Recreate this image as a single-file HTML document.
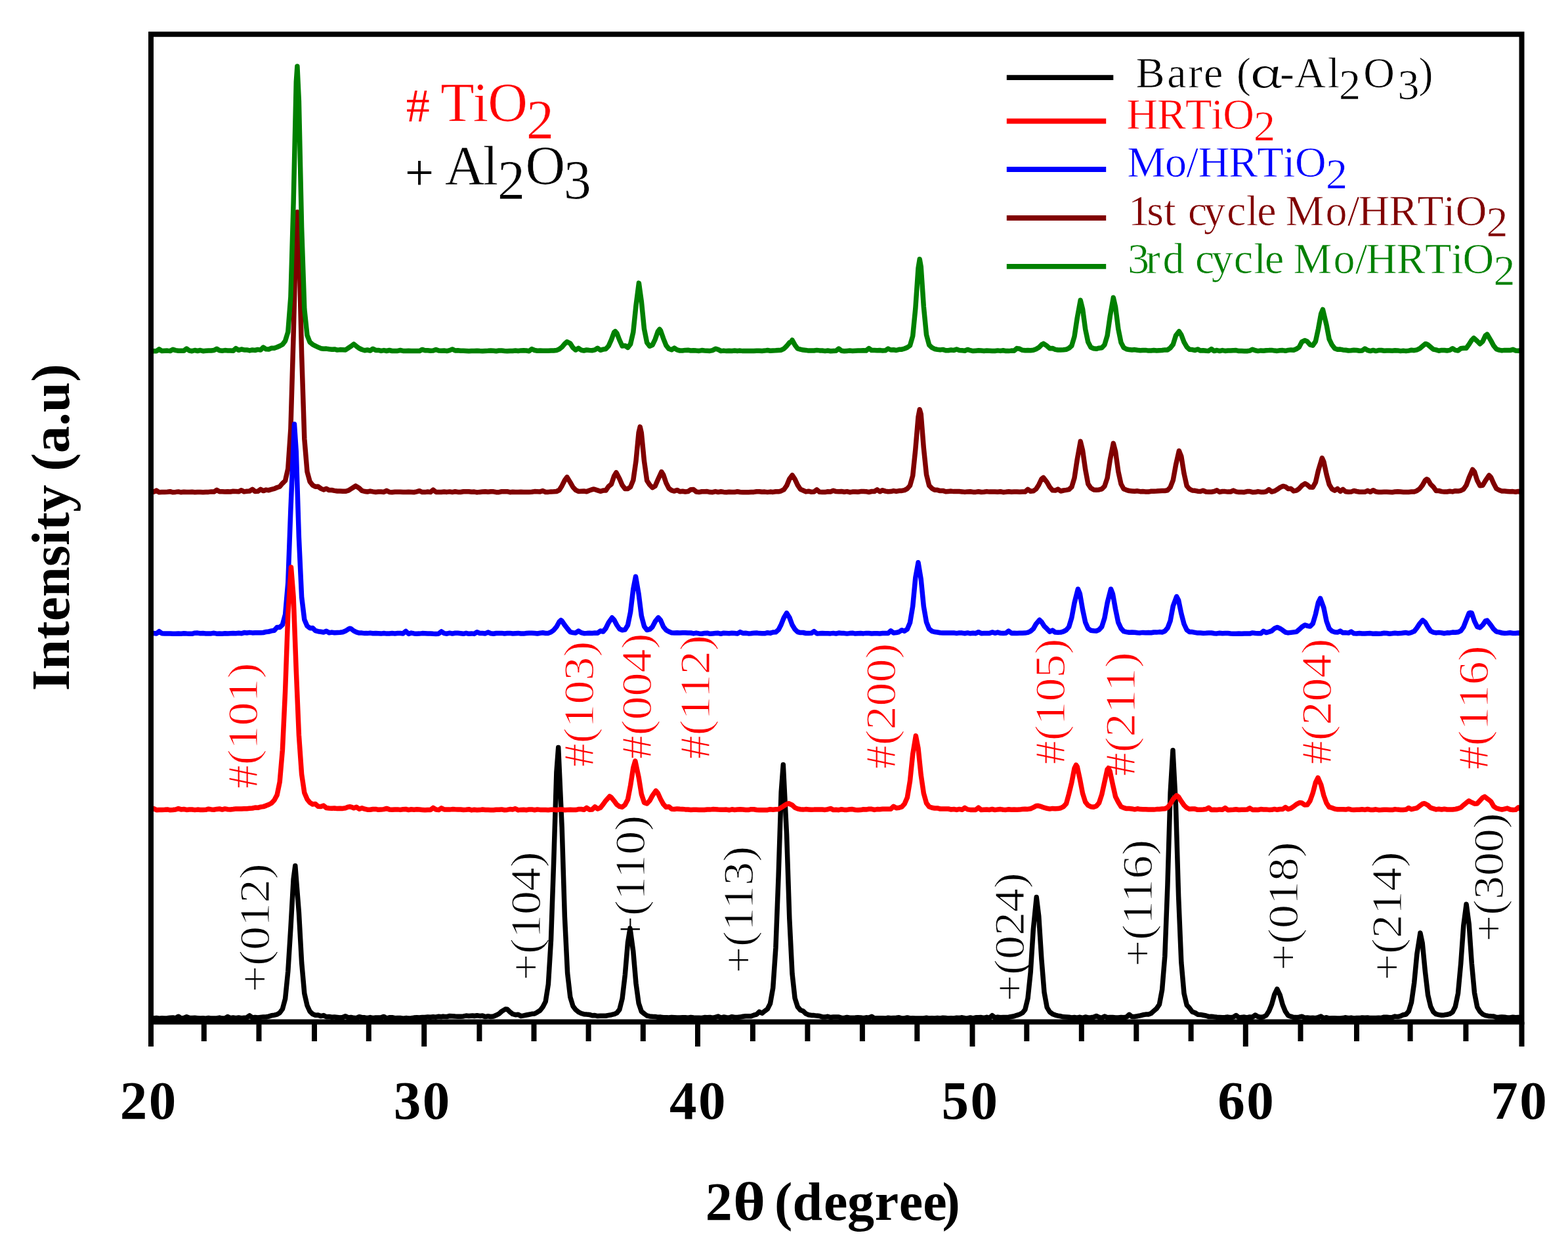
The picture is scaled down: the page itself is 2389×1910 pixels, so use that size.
<!DOCTYPE html>
<html><head><meta charset="utf-8"><title>XRD patterns</title>
<style>
html,body{margin:0;padding:0;background:#fff;}
svg{display:block;}
text{font-family:"Liberation Serif","Times New Roman",serif;}
</style></head><body>
<svg width="2389" height="1910" viewBox="0 0 2389 1910">
<rect x="0" y="0" width="2389" height="1910" fill="#fff"/>
<text transform="translate(392.0,1200.0) rotate(-90) scale(1.090,1)" x="-1.2" font-size="66" fill="#ff0000" stroke="#fff" stroke-width="1.10">#(101)</text>
<text transform="translate(904.0,1167.0) rotate(-90) scale(1.090,1)" x="-1.2" font-size="66" fill="#ff0000" stroke="#fff" stroke-width="1.10">#(103)</text>
<text transform="translate(992.0,1155.0) rotate(-90) scale(1.090,1)" x="-1.2" font-size="66" fill="#ff0000" stroke="#fff" stroke-width="1.10">#(004)</text>
<text transform="translate(1081.0,1155.0) rotate(-90) scale(1.090,1)" x="-1.2" font-size="66" fill="#ff0000" stroke="#fff" stroke-width="1.10">#(112)</text>
<text transform="translate(1364.0,1170.0) rotate(-90) scale(1.090,1)" x="-1.2" font-size="66" fill="#ff0000" stroke="#fff" stroke-width="1.10">#(200)</text>
<text transform="translate(1622.0,1163.0) rotate(-90) scale(1.090,1)" x="-1.2" font-size="66" fill="#ff0000" stroke="#fff" stroke-width="1.10">#(105)</text>
<text transform="translate(1729.0,1181.0) rotate(-90) scale(1.090,1)" x="-1.2" font-size="66" fill="#ff0000" stroke="#fff" stroke-width="1.10">#(211)</text>
<text transform="translate(2027.6,1163.0) rotate(-90) scale(1.090,1)" x="-1.2" font-size="66" fill="#ff0000" stroke="#fff" stroke-width="1.10">#(204)</text>
<text transform="translate(2267.0,1171.0) rotate(-90) scale(1.090,1)" x="-1.2" font-size="66" fill="#ff0000" stroke="#fff" stroke-width="1.10">#(116)</text>
<text transform="translate(410.0,1508.0) rotate(-90) scale(1.090,1)" x="-3.3" font-size="66" fill="#000000" stroke="#fff" stroke-width="1.10">+(012)</text>
<text transform="translate(823.0,1490.0) rotate(-90) scale(1.090,1)" x="-3.3" font-size="66" fill="#000000" stroke="#fff" stroke-width="1.10">+(104)</text>
<text transform="translate(982.0,1432.0) rotate(-90) scale(1.090,1)" x="-3.3" font-size="66" fill="#000000" stroke="#fff" stroke-width="1.10">+(110)</text>
<text transform="translate(1147.0,1479.0) rotate(-90) scale(1.090,1)" x="-3.3" font-size="66" fill="#000000" stroke="#fff" stroke-width="1.10">+(113)</text>
<text transform="translate(1560.0,1522.0) rotate(-90) scale(1.090,1)" x="-3.3" font-size="66" fill="#000000" stroke="#fff" stroke-width="1.10">+(024)</text>
<text transform="translate(1755.0,1469.0) rotate(-90) scale(1.090,1)" x="-3.3" font-size="66" fill="#000000" stroke="#fff" stroke-width="1.10">+(116)</text>
<text transform="translate(1977.0,1475.0) rotate(-90) scale(1.090,1)" x="-3.3" font-size="66" fill="#000000" stroke="#fff" stroke-width="1.10">+(018)</text>
<text transform="translate(2135.0,1490.0) rotate(-90) scale(1.090,1)" x="-3.3" font-size="66" fill="#000000" stroke="#fff" stroke-width="1.10">+(214)</text>
<text transform="translate(2290.0,1431.0) rotate(-90) scale(1.090,1)" x="-3.3" font-size="66" fill="#000000" stroke="#fff" stroke-width="1.10">+(300)</text>
<polyline fill="none" stroke="#000000" stroke-width="7.5" stroke-linejoin="round" points="230.0,1550.2 234.2,1551.0 238.3,1550.5 242.5,1551.3 246.7,1550.8 250.9,1551.1 255.1,1550.8 259.2,1550.2 263.4,1550.0 267.6,1550.8 271.8,1548.2 275.9,1551.0 280.1,1550.4 284.3,1548.8 288.4,1550.3 292.6,1550.5 296.8,1550.3 301.0,1550.7 305.1,1551.0 309.3,1550.8 313.5,1551.2 317.7,1550.4 321.9,1551.1 326.0,1550.9 330.2,1551.0 334.4,1550.1 338.6,1551.1 342.7,1550.9 346.9,1548.5 351.1,1550.7 355.2,1549.9 359.4,1550.7 363.6,1549.9 367.8,1550.7 371.9,1550.3 376.1,1549.9 380.3,1546.9 384.5,1550.1 388.6,1549.4 392.8,1550.0 397.0,1549.4 401.2,1548.9 405.4,1549.0 409.5,1548.1 413.7,1546.7 417.9,1546.1 422.1,1545.2 426.2,1542.6 430.4,1536.9 434.6,1521.3 438.8,1479.5 442.9,1413.8 447.1,1338.9 449.8,1318.8 455.4,1389.6 459.6,1465.9 463.8,1513.1 468.0,1531.5 472.1,1540.5 476.3,1544.5 480.5,1546.2 484.7,1546.1 488.9,1547.6 493.0,1546.6 497.2,1548.8 501.4,1548.5 505.6,1549.2 509.7,1549.0 513.9,1549.4 518.1,1550.0 522.2,1549.5 526.4,1547.7 530.6,1549.9 534.8,1549.4 539.0,1550.3 543.1,1550.7 547.3,1548.7 551.5,1549.7 555.6,1549.8 559.8,1550.7 564.0,1549.6 568.2,1550.7 572.4,1549.9 576.5,1550.0 580.7,1549.9 584.9,1548.4 589.0,1551.0 593.2,1549.8 597.4,1549.7 601.6,1550.7 605.8,1550.5 609.9,1550.5 614.1,1551.1 618.3,1550.6 622.5,1551.0 626.6,1550.7 630.8,1550.1 635.0,1549.7 639.1,1550.0 643.3,1549.5 647.5,1549.5 651.7,1548.9 655.9,1549.3 660.0,1548.8 664.2,1549.2 668.4,1548.2 672.5,1548.7 675.0,1548.1 676.7,1548.3 680.9,1548.6 685.1,1547.4 689.2,1547.7 693.4,1548.1 697.6,1548.3 701.8,1548.3 706.0,1547.9 710.1,1547.1 714.3,1547.5 720.0,1546.9 722.6,1547.5 726.8,1546.7 731.0,1547.4 735.2,1547.1 739.4,1548.6 743.5,1547.8 747.7,1548.5 751.9,1548.0 756.0,1546.3 760.2,1544.2 764.4,1540.4 769.9,1537.1 772.8,1537.3 776.9,1541.2 781.1,1544.5 785.3,1545.7 789.5,1545.2 793.6,1547.6 797.8,1546.9 802.0,1546.0 806.1,1545.2 810.3,1544.3 814.5,1544.0 818.7,1541.7 822.9,1539.0 827.0,1533.7 831.2,1525.6 835.4,1499.0 839.5,1431.8 843.7,1311.3 847.9,1176.1 850.7,1138.5 856.2,1260.8 860.4,1396.4 864.6,1482.0 868.8,1518.6 873.0,1532.5 877.1,1537.9 881.3,1541.4 885.5,1543.5 889.6,1544.7 893.8,1545.1 898.0,1545.4 902.2,1546.8 906.4,1546.5 910.5,1547.6 914.7,1547.3 918.9,1547.3 923.0,1547.2 927.2,1546.4 931.4,1545.7 935.6,1544.7 939.8,1542.9 943.9,1537.6 948.1,1520.9 952.3,1485.1 956.5,1435.5 960.0,1413.9 964.8,1449.3 969.0,1497.9 973.1,1528.0 977.3,1540.5 981.5,1544.0 985.7,1547.0 989.9,1547.9 994.0,1548.2 998.2,1548.4 1002.4,1549.3 1006.5,1549.1 1010.7,1549.8 1014.9,1549.8 1019.1,1549.9 1023.2,1549.4 1027.4,1549.7 1031.6,1550.1 1035.8,1549.9 1040.0,1549.8 1044.1,1549.7 1048.3,1550.2 1052.5,1549.5 1056.7,1550.0 1060.8,1550.3 1065.0,1550.3 1069.2,1550.4 1073.3,1549.6 1077.5,1549.7 1081.7,1549.4 1085.9,1550.4 1090.0,1549.3 1094.2,1548.1 1098.4,1550.3 1102.6,1549.0 1106.8,1549.7 1110.9,1550.0 1115.1,1548.7 1119.3,1549.5 1123.5,1549.5 1127.6,1549.1 1131.8,1548.3 1136.0,1547.7 1140.2,1547.8 1144.3,1547.7 1148.5,1546.2 1152.7,1545.1 1156.8,1541.1 1161.0,1543.3 1165.2,1539.9 1169.4,1536.8 1173.5,1528.6 1177.7,1504.9 1181.9,1444.0 1186.1,1334.2 1190.2,1206.2 1193.3,1164.7 1198.6,1271.5 1202.8,1398.8 1207.0,1483.0 1211.1,1520.4 1215.3,1533.5 1219.5,1538.5 1223.7,1540.1 1227.8,1543.9 1232.0,1545.7 1236.2,1546.4 1240.3,1546.6 1244.5,1547.1 1248.7,1547.5 1252.9,1548.9 1257.0,1549.1 1261.2,1548.3 1265.4,1549.5 1269.6,1549.1 1273.8,1548.9 1277.9,1549.0 1282.1,1550.4 1286.3,1550.5 1290.5,1549.5 1294.6,1550.2 1298.8,1550.3 1303.0,1550.1 1307.2,1549.8 1311.3,1549.9 1315.5,1550.7 1319.7,1549.8 1323.8,1550.2 1328.0,1548.3 1332.2,1550.9 1336.4,1550.7 1340.5,1550.7 1344.7,1550.7 1348.9,1551.1 1353.1,1550.3 1357.2,1550.8 1361.4,1550.5 1365.6,1550.2 1369.8,1549.8 1374.0,1551.0 1378.1,1551.0 1382.3,1549.9 1386.5,1551.0 1390.7,1550.8 1394.8,1551.0 1399.0,1551.1 1403.2,1551.1 1407.3,1550.9 1411.5,1550.3 1415.7,1551.1 1419.9,1550.7 1424.0,1550.9 1428.2,1550.5 1432.4,1551.0 1436.6,1550.3 1440.8,1550.5 1444.9,1551.1 1449.1,1550.8 1453.3,1550.9 1457.5,1550.3 1461.6,1550.6 1465.8,1549.8 1470.0,1550.7 1474.2,1550.9 1478.3,1549.9 1482.5,1550.9 1486.7,1549.8 1490.8,1549.8 1495.0,1549.6 1499.2,1550.4 1503.4,1549.3 1507.5,1550.6 1511.7,1546.7 1515.9,1550.0 1520.1,1549.1 1524.2,1549.7 1528.4,1549.5 1532.6,1549.4 1536.8,1549.2 1541.0,1548.5 1545.1,1547.8 1549.3,1546.3 1553.5,1545.0 1557.7,1542.8 1561.8,1537.9 1566.0,1520.7 1570.2,1480.5 1574.3,1415.7 1579.2,1366.6 1582.7,1395.4 1586.9,1461.2 1591.0,1511.5 1595.2,1534.4 1599.4,1541.4 1603.6,1544.4 1607.8,1546.1 1611.9,1547.1 1616.1,1547.8 1620.3,1548.8 1624.5,1549.0 1628.6,1549.3 1632.8,1549.9 1637.0,1549.5 1641.2,1550.1 1645.3,1549.3 1649.5,1550.3 1653.7,1549.0 1657.8,1549.9 1662.0,1549.8 1666.2,1549.3 1670.4,1547.5 1674.5,1549.4 1678.7,1550.3 1682.9,1548.1 1687.1,1549.7 1691.2,1549.5 1695.4,1549.5 1699.6,1549.9 1703.8,1549.9 1708.0,1549.5 1712.1,1549.7 1716.3,1549.1 1720.5,1545.3 1724.7,1548.6 1728.8,1548.4 1733.0,1547.7 1737.2,1546.8 1741.3,1545.8 1745.5,1545.1 1749.7,1545.0 1753.9,1543.4 1758.0,1539.8 1762.2,1536.2 1766.4,1529.9 1770.6,1507.5 1774.8,1456.2 1778.9,1348.5 1783.1,1207.8 1787.0,1142.7 1791.5,1227.5 1795.6,1365.5 1799.8,1465.7 1804.0,1513.2 1808.2,1530.9 1812.3,1535.3 1816.5,1541.2 1820.7,1542.5 1824.8,1545.2 1829.0,1545.4 1833.2,1546.2 1837.4,1547.0 1841.5,1548.4 1845.7,1548.2 1849.9,1548.8 1854.1,1549.2 1858.2,1549.4 1862.4,1549.7 1866.6,1549.5 1870.8,1549.1 1875.0,1549.6 1879.1,1549.1 1883.3,1546.5 1887.5,1549.9 1891.7,1549.4 1895.8,1549.1 1900.0,1550.0 1904.2,1548.9 1908.3,1549.3 1912.5,1546.0 1916.7,1548.5 1920.9,1549.5 1925.0,1548.7 1929.2,1546.5 1933.4,1540.0 1937.6,1529.8 1941.8,1514.6 1945.8,1506.4 1950.1,1515.3 1954.3,1530.5 1958.5,1540.7 1962.6,1546.7 1966.8,1548.2 1971.0,1549.5 1975.2,1549.6 1979.3,1549.1 1983.5,1548.2 1987.7,1550.2 1991.8,1549.9 1996.0,1550.5 2000.2,1550.2 2004.4,1550.7 2008.5,1549.6 2012.7,1548.1 2016.9,1550.8 2021.1,1549.7 2025.2,1551.0 2029.4,1550.7 2033.6,1550.8 2037.8,1550.9 2042.0,1550.9 2046.1,1550.6 2050.3,1549.8 2054.5,1550.7 2058.7,1550.1 2062.8,1550.9 2067.0,1550.4 2071.2,1550.6 2075.3,1550.0 2079.5,1550.2 2083.7,1550.0 2087.9,1550.6 2092.1,1550.4 2096.2,1550.4 2100.4,1550.3 2104.6,1550.4 2108.8,1549.2 2112.9,1549.3 2117.1,1549.7 2121.3,1549.6 2125.4,1548.1 2129.6,1548.6 2133.8,1547.7 2138.0,1545.7 2142.2,1545.0 2146.3,1540.3 2150.5,1526.7 2154.7,1496.9 2158.8,1453.6 2163.9,1421.0 2167.2,1436.6 2171.4,1479.8 2175.6,1515.7 2179.7,1533.0 2183.9,1541.4 2188.1,1544.7 2192.2,1545.6 2196.4,1546.2 2200.6,1545.9 2204.8,1545.3 2208.9,1544.2 2213.1,1541.6 2217.3,1533.3 2221.5,1512.9 2225.7,1467.6 2229.8,1410.1 2234.1,1377.2 2238.2,1407.7 2242.3,1467.3 2246.5,1512.2 2250.7,1533.8 2254.9,1540.9 2259.1,1544.9 2263.2,1546.6 2267.4,1547.4 2271.6,1547.8 2275.8,1547.9 2279.9,1549.4 2284.1,1549.3 2288.3,1548.9 2292.4,1549.2 2296.6,1549.9 2300.8,1550.0 2305.0,1549.3 2309.2,1549.7 2313.3,1549.5 2317.5,1550.4"/>
<polyline fill="none" stroke="#800000" stroke-width="7.5" stroke-linejoin="round" points="230.0,749.3 234.2,749.2 238.3,747.0 242.5,749.8 246.7,749.5 250.9,749.5 255.1,749.3 259.2,748.7 263.4,749.8 267.6,749.4 271.8,748.9 275.9,749.8 280.1,749.3 284.3,749.6 288.4,749.4 292.6,749.2 296.8,749.7 301.0,749.4 305.1,749.5 309.3,749.7 313.5,749.4 317.7,749.4 321.9,748.9 326.0,749.1 330.2,746.3 334.4,748.7 338.6,748.8 342.7,749.1 346.9,748.8 351.1,749.0 355.2,748.3 359.4,748.4 363.6,748.8 367.8,746.7 371.9,748.9 376.1,748.2 380.3,748.0 384.5,745.3 388.6,748.5 392.8,748.3 397.0,745.4 401.2,747.6 405.4,746.1 409.5,746.7 413.7,745.4 417.9,744.4 422.1,742.5 426.2,741.2 430.4,736.2 434.6,732.1 438.8,713.8 442.9,653.3 447.1,510.9 451.3,343.9 453.0,322.9 455.4,367.5 459.6,539.0 463.8,668.2 468.0,718.5 472.1,733.6 476.3,738.9 480.5,741.3 484.7,741.1 488.9,744.1 493.0,745.9 497.2,744.3 501.4,746.6 505.6,746.5 509.7,747.4 513.9,748.0 518.1,748.1 522.2,748.3 526.4,748.3 530.6,747.2 534.8,744.6 539.0,742.0 541.9,740.1 547.3,743.5 551.5,747.4 555.6,748.5 559.8,749.0 564.0,748.1 568.2,748.9 572.4,749.5 576.5,749.0 580.7,749.1 584.9,749.4 589.0,747.3 593.2,749.4 597.4,749.7 601.6,749.2 605.8,749.2 609.9,749.3 614.1,749.6 618.3,749.5 622.5,749.3 626.6,749.4 630.8,749.7 635.0,748.9 639.1,747.7 643.3,749.6 647.5,749.6 651.7,749.0 655.9,749.6 660.0,746.1 664.2,749.4 668.4,749.5 672.5,749.5 676.7,749.0 680.9,749.4 685.1,748.9 689.2,749.6 693.4,748.7 697.6,749.4 701.8,749.5 706.0,748.8 710.1,748.8 714.3,748.7 718.5,749.2 722.6,749.1 726.8,749.9 731.0,749.4 735.2,749.0 739.4,748.8 743.5,749.3 747.7,748.8 751.9,748.8 756.0,749.7 760.2,749.7 764.4,748.7 768.6,748.7 772.8,748.7 776.9,749.7 781.1,749.2 785.3,749.5 789.5,749.4 793.6,749.2 797.8,749.4 802.0,749.5 806.1,749.4 810.3,749.3 814.5,748.6 818.7,748.7 822.9,748.9 827.0,747.6 831.2,749.5 835.4,749.4 839.5,748.9 843.7,748.8 847.9,748.5 852.1,746.5 856.2,739.9 860.4,731.5 863.9,726.6 868.8,734.6 873.0,742.0 877.1,746.3 881.3,748.4 885.5,748.2 889.6,748.0 893.8,748.8 898.0,747.0 902.2,745.6 904.0,745.0 906.4,745.5 910.5,746.9 914.7,748.3 918.9,747.1 923.0,747.1 927.2,740.9 931.4,737.5 935.6,725.2 938.9,719.8 943.9,729.3 948.1,739.0 952.3,744.6 956.5,744.5 960.6,741.7 964.8,731.4 969.0,702.0 973.1,658.9 975.2,650.1 977.3,659.3 981.5,702.3 985.7,732.0 989.9,738.5 994.0,742.7 998.2,740.2 1002.4,730.6 1007.9,718.6 1010.7,723.2 1014.9,735.6 1019.1,743.9 1023.2,746.9 1027.4,748.1 1031.6,746.4 1035.8,748.7 1040.0,748.2 1044.1,749.0 1048.3,748.6 1052.5,745.7 1056.7,745.6 1060.8,749.0 1065.0,749.6 1069.2,748.8 1073.3,748.7 1077.5,748.6 1081.7,749.6 1085.9,749.7 1090.0,748.6 1094.2,749.6 1098.4,748.8 1102.6,749.4 1106.8,749.8 1110.9,749.3 1115.1,749.4 1119.3,749.6 1123.5,748.7 1127.6,749.5 1131.8,749.8 1136.0,749.8 1140.2,749.7 1144.3,749.5 1148.5,749.4 1152.7,748.7 1156.8,748.8 1161.0,749.3 1165.2,749.1 1169.4,749.6 1173.5,749.1 1177.7,749.4 1181.9,748.7 1186.1,748.8 1190.2,747.8 1194.4,745.6 1198.6,739.7 1202.8,729.5 1207.1,723.8 1211.1,729.9 1215.3,738.9 1219.5,745.3 1223.7,747.0 1227.8,748.9 1232.0,748.2 1236.2,749.3 1240.3,748.9 1244.5,745.8 1248.7,749.3 1252.9,749.4 1257.0,749.6 1261.2,748.8 1265.4,748.9 1269.6,747.2 1273.8,748.6 1277.9,748.7 1282.1,748.5 1286.3,749.2 1290.5,748.6 1294.6,749.7 1298.8,749.1 1303.0,748.9 1307.2,749.3 1311.3,748.6 1315.5,748.5 1319.7,748.7 1323.8,749.6 1328.0,748.5 1332.2,748.5 1336.4,745.9 1340.5,748.8 1344.7,746.7 1348.9,748.1 1353.1,748.8 1357.2,748.6 1361.4,747.6 1365.6,748.4 1369.8,747.6 1374.0,747.4 1378.1,746.6 1382.3,744.4 1386.5,739.6 1390.7,724.5 1394.8,684.6 1399.0,635.0 1401.2,623.8 1403.2,630.7 1407.3,682.2 1411.5,722.8 1415.7,739.7 1419.9,743.9 1424.0,746.2 1428.2,746.3 1432.4,747.6 1436.6,747.4 1440.8,748.8 1444.9,748.4 1449.1,748.1 1453.3,748.6 1457.5,748.5 1461.6,748.6 1465.8,748.9 1470.0,749.4 1474.2,748.9 1478.3,748.7 1482.5,749.4 1486.7,749.4 1490.8,748.7 1495.0,749.5 1499.2,749.2 1503.4,748.6 1507.5,749.1 1511.7,749.0 1515.9,748.9 1520.1,749.2 1524.2,748.7 1528.4,749.7 1532.6,749.3 1536.8,748.7 1541.0,749.3 1545.1,749.1 1549.3,748.9 1553.5,749.3 1557.7,748.9 1561.8,749.1 1566.0,745.4 1570.2,748.3 1574.3,747.8 1578.5,745.0 1582.7,738.4 1586.9,729.5 1589.8,727.4 1595.2,734.5 1599.4,741.9 1603.6,746.7 1607.8,747.1 1611.9,745.1 1616.1,748.0 1620.3,747.0 1624.5,746.4 1628.6,745.6 1632.8,741.8 1637.0,727.9 1641.2,699.9 1646.2,672.3 1649.5,685.9 1653.7,715.2 1657.8,737.1 1662.0,743.3 1666.2,745.9 1670.4,746.3 1674.5,745.9 1678.7,744.8 1682.9,740.6 1687.1,728.1 1691.2,700.8 1696.3,675.3 1699.6,688.0 1703.8,718.1 1708.0,737.2 1712.1,744.8 1716.3,746.3 1720.5,747.6 1724.7,747.9 1728.8,748.2 1733.0,747.8 1737.2,748.7 1741.3,748.6 1745.5,748.9 1749.7,749.1 1753.9,748.3 1758.0,748.2 1762.2,748.1 1766.4,747.8 1770.6,747.6 1774.8,747.5 1778.9,746.7 1783.1,742.2 1787.3,731.4 1791.5,708.2 1796.4,686.7 1799.8,695.2 1804.0,721.3 1808.2,740.1 1812.3,744.9 1816.5,747.0 1820.7,747.3 1824.8,748.2 1829.0,748.5 1833.2,747.2 1837.4,749.0 1841.5,749.2 1845.7,749.2 1849.9,748.5 1854.1,746.8 1858.2,749.4 1862.4,748.5 1866.6,748.6 1870.8,749.1 1875.0,749.0 1879.1,747.1 1883.3,748.9 1887.5,749.6 1891.7,749.4 1895.8,749.7 1900.0,748.6 1904.2,748.5 1908.3,749.7 1912.5,749.6 1916.7,748.6 1920.9,749.4 1925.0,749.6 1929.2,748.8 1933.4,745.6 1937.6,749.0 1941.8,747.9 1945.9,745.6 1950.1,742.7 1954.9,740.4 1958.5,741.3 1962.6,744.4 1966.8,744.2 1971.0,747.9 1975.2,747.1 1979.3,744.3 1983.5,739.7 1988.3,736.5 1991.8,738.5 1996.0,742.1 2000.2,742.2 2004.4,734.6 2008.5,716.8 2014.3,697.5 2016.9,703.2 2021.1,722.8 2025.2,738.0 2029.4,744.9 2033.6,747.1 2037.8,744.4 2042.0,748.4 2046.1,745.4 2050.3,748.8 2054.5,749.3 2058.7,749.1 2062.8,747.4 2067.0,748.5 2071.2,749.2 2075.3,749.2 2079.5,749.3 2083.7,747.3 2087.9,749.3 2092.1,746.7 2096.2,748.8 2100.4,749.6 2104.6,749.4 2108.8,749.3 2112.9,749.2 2117.1,749.4 2121.3,749.7 2125.4,749.0 2129.6,748.8 2133.8,749.1 2138.0,749.4 2142.2,749.5 2146.3,749.4 2150.5,749.0 2154.7,748.9 2158.8,747.4 2163.0,744.5 2167.2,739.1 2171.4,731.6 2173.8,729.7 2175.6,730.7 2179.7,737.6 2183.9,741.7 2188.1,747.6 2192.2,747.5 2196.4,748.6 2200.6,749.1 2204.8,749.0 2208.9,748.2 2213.1,748.9 2217.3,747.7 2221.5,748.1 2225.7,747.3 2229.8,745.1 2234.0,739.2 2238.2,727.6 2243.6,715.2 2246.5,718.7 2250.7,731.8 2254.9,739.8 2259.1,739.2 2263.2,732.1 2268.8,724.0 2271.6,727.1 2275.8,736.6 2279.9,744.3 2284.1,746.5 2288.3,748.1 2292.4,748.0 2296.6,748.4 2300.8,748.8 2305.0,748.6 2309.2,749.3 2313.3,748.5 2317.5,749.6"/>
<polyline fill="none" stroke="#0000ff" stroke-width="7.5" stroke-linejoin="round" points="230.0,964.5 234.2,964.5 238.3,964.9 242.5,961.7 246.7,964.7 250.9,965.1 255.1,965.1 259.2,964.9 263.4,965.3 267.6,965.3 271.8,964.9 275.9,965.2 280.1,964.8 284.3,965.1 288.4,965.3 292.6,965.3 296.8,964.2 301.0,964.1 305.1,964.8 309.3,964.6 313.5,965.0 317.7,964.9 321.9,964.9 326.0,964.3 330.2,965.2 334.4,965.1 338.6,965.2 342.7,964.7 346.9,965.1 351.1,964.8 355.2,964.6 359.4,964.7 363.6,964.3 367.8,964.8 371.9,963.6 376.1,964.0 380.3,963.4 384.5,963.9 388.6,963.7 392.8,963.7 397.0,963.8 401.2,963.5 405.4,962.4 409.5,962.0 413.7,960.9 417.9,960.2 422.1,955.4 426.2,955.5 430.4,951.5 434.6,936.0 438.8,887.3 442.9,776.2 448.5,645.9 451.3,688.1 455.4,818.4 459.6,909.2 463.8,943.7 468.0,953.4 472.1,956.7 476.3,956.4 480.5,960.6 484.7,961.7 488.9,962.3 493.0,963.0 497.2,961.3 501.4,963.8 505.6,963.1 509.7,963.8 513.9,963.4 518.1,963.2 522.2,962.8 526.4,961.1 530.6,958.4 533.0,957.2 534.8,957.6 539.0,960.9 543.1,962.9 547.3,964.1 551.5,964.1 555.6,964.6 559.8,964.6 564.0,964.1 568.2,964.8 572.4,964.5 576.5,964.7 580.7,965.1 584.9,964.5 589.0,965.1 593.2,964.9 597.4,964.5 601.6,964.9 605.8,964.5 609.9,964.5 614.1,964.9 618.3,961.4 622.5,965.4 626.6,964.1 630.8,964.9 635.0,965.3 639.1,965.1 643.3,964.6 647.5,964.8 651.7,965.0 655.9,964.9 660.0,965.2 664.2,965.4 668.4,965.2 672.5,961.9 676.7,964.6 680.9,965.2 685.1,964.2 689.2,965.1 693.4,964.3 697.6,964.3 701.8,964.7 706.0,965.3 710.1,964.3 714.3,965.3 718.5,964.9 722.6,965.4 726.8,962.8 731.0,964.5 735.2,964.5 739.4,964.9 743.5,963.1 747.7,964.8 751.9,965.3 756.0,964.5 760.2,964.6 764.4,964.4 768.6,965.0 772.8,964.6 776.9,964.4 781.1,965.0 785.3,964.7 789.5,964.4 793.6,965.0 797.8,965.1 802.0,964.5 806.1,964.2 810.3,964.2 814.5,964.5 818.7,965.0 822.9,964.2 827.0,963.8 831.2,964.5 835.4,964.4 839.5,962.7 843.7,959.7 847.9,954.7 852.1,947.0 854.6,944.7 856.2,945.8 860.4,952.1 864.6,957.5 868.8,962.6 873.0,963.6 877.1,964.1 881.3,961.0 885.5,963.6 889.6,964.7 893.8,964.5 898.0,964.2 902.2,964.4 906.4,964.0 910.5,964.2 914.7,961.0 918.9,962.0 923.0,957.0 927.2,948.4 932.5,940.8 935.6,944.0 939.8,952.0 943.9,958.0 948.1,959.8 952.3,959.1 956.5,952.2 960.6,932.2 964.8,897.1 968.5,878.2 973.1,904.6 977.3,938.0 981.5,953.9 985.7,959.5 989.9,958.6 994.0,954.9 998.2,946.7 1003.0,940.7 1006.5,944.8 1010.7,954.6 1014.9,959.7 1019.1,962.1 1023.2,963.7 1027.4,963.9 1031.6,963.8 1035.8,964.0 1040.0,963.8 1044.1,963.7 1048.3,964.1 1052.5,964.0 1056.7,964.9 1060.8,964.1 1065.0,964.9 1069.2,965.2 1073.3,964.5 1077.5,964.2 1081.7,965.3 1085.9,964.9 1090.0,964.6 1094.2,964.3 1098.4,965.3 1102.6,964.2 1106.8,964.5 1110.9,964.8 1115.1,964.2 1119.3,964.5 1123.5,965.1 1127.6,962.6 1131.8,964.4 1136.0,964.3 1140.2,964.9 1144.3,964.7 1148.5,964.2 1152.7,964.0 1156.8,964.6 1161.0,964.7 1165.2,964.8 1169.4,963.7 1173.5,964.4 1177.7,963.0 1181.9,962.8 1186.1,959.2 1190.2,951.2 1194.4,940.7 1198.6,933.8 1202.8,940.4 1207.0,951.8 1211.1,958.5 1215.3,962.5 1219.5,963.6 1223.7,963.5 1227.8,964.5 1232.0,964.6 1236.2,964.3 1240.3,961.6 1244.5,964.9 1248.7,964.8 1252.9,964.4 1257.0,964.7 1261.2,964.8 1265.4,964.9 1269.6,964.4 1273.8,965.1 1277.9,964.1 1282.1,964.5 1286.3,964.6 1290.5,965.1 1294.6,964.6 1298.8,964.2 1303.0,965.1 1307.2,964.8 1311.3,964.5 1315.5,964.9 1319.7,964.4 1323.8,964.6 1328.0,965.0 1332.2,964.7 1336.4,964.8 1340.5,964.9 1344.7,964.5 1348.9,964.5 1353.1,964.5 1357.2,960.8 1361.4,963.9 1365.6,963.6 1369.8,962.5 1374.0,959.7 1378.1,961.2 1382.3,958.4 1386.5,948.4 1390.7,923.4 1394.8,879.9 1399.0,856.8 1403.2,882.0 1407.3,923.6 1411.5,947.6 1415.7,958.0 1419.9,961.3 1424.0,962.5 1428.2,963.0 1432.4,963.8 1436.6,963.9 1440.8,964.1 1444.9,964.0 1449.1,964.0 1453.3,963.9 1457.5,964.6 1461.6,963.9 1465.8,964.1 1470.0,964.7 1474.2,963.9 1478.3,964.8 1482.5,964.2 1486.7,964.7 1490.8,962.7 1495.0,964.7 1499.2,964.5 1503.4,964.5 1507.5,964.5 1511.7,962.9 1515.9,964.3 1520.1,963.1 1524.2,964.3 1528.4,964.6 1532.6,964.3 1536.8,961.1 1541.0,964.4 1545.1,964.3 1549.3,964.5 1553.5,964.2 1557.7,964.2 1561.8,964.1 1566.0,963.4 1570.2,961.4 1574.3,957.8 1578.5,950.4 1583.8,944.3 1586.9,947.2 1591.0,953.8 1595.2,957.8 1599.4,962.1 1603.6,960.1 1607.8,963.1 1611.9,963.2 1616.1,963.1 1620.3,961.9 1624.5,959.6 1628.6,954.9 1632.8,940.9 1637.0,918.3 1642.4,897.2 1645.3,904.1 1649.5,928.4 1653.7,948.0 1657.8,957.3 1662.0,960.3 1666.2,960.7 1670.4,961.0 1674.5,959.2 1678.7,954.6 1682.9,941.3 1687.1,918.3 1692.5,897.2 1695.4,904.7 1699.6,928.0 1703.8,948.2 1708.0,957.1 1712.1,961.6 1716.3,962.6 1720.5,963.3 1724.7,963.0 1728.8,963.2 1733.0,963.7 1737.2,963.9 1741.3,963.4 1745.5,963.8 1749.7,963.4 1753.9,963.8 1758.0,963.0 1762.2,963.1 1766.4,962.6 1770.6,963.0 1774.8,961.2 1778.9,956.6 1783.1,945.6 1787.3,923.0 1792.7,908.6 1795.6,914.2 1799.8,934.5 1804.0,950.5 1808.2,959.5 1812.3,962.5 1816.5,962.6 1820.7,963.4 1824.8,964.1 1829.0,964.1 1833.2,964.4 1837.4,964.3 1841.5,964.0 1845.7,964.0 1849.9,964.7 1854.1,964.9 1858.2,964.3 1862.4,964.8 1866.6,964.5 1870.8,964.5 1875.0,965.0 1879.1,965.2 1883.3,965.2 1887.5,964.9 1891.7,965.2 1895.8,964.9 1900.0,964.9 1904.2,965.1 1908.3,963.9 1912.5,964.5 1916.7,964.7 1920.9,964.8 1925.0,961.3 1929.2,963.6 1933.4,962.4 1937.6,960.9 1941.8,957.2 1946.0,955.4 1950.1,957.2 1954.3,959.9 1958.5,963.1 1962.6,963.9 1966.8,963.4 1971.0,962.9 1975.2,962.4 1979.3,958.9 1983.5,955.0 1988.3,951.9 1991.8,953.3 1996.0,954.1 2000.2,949.9 2004.4,935.7 2008.5,917.7 2011.6,911.4 2016.9,925.9 2021.1,946.3 2025.2,957.4 2029.4,961.3 2033.6,962.7 2037.8,963.1 2042.0,961.1 2046.1,963.8 2050.3,963.6 2054.5,964.1 2058.7,962.0 2062.8,964.8 2067.0,965.0 2071.2,964.5 2075.3,965.0 2079.5,965.1 2083.7,964.8 2087.9,964.6 2092.1,965.2 2096.2,964.9 2100.4,965.2 2104.6,965.0 2108.8,964.3 2112.9,964.5 2117.1,965.2 2121.3,964.8 2125.4,964.3 2129.6,964.8 2133.8,964.6 2138.0,964.0 2142.2,963.6 2146.3,964.5 2150.5,963.3 2154.7,961.6 2158.8,956.4 2163.0,949.9 2167.5,944.7 2171.4,947.9 2175.6,955.2 2179.7,961.2 2183.9,963.1 2188.1,963.9 2192.2,963.4 2196.4,963.9 2200.6,964.7 2204.8,963.8 2208.9,963.9 2213.1,963.1 2217.3,963.3 2221.5,962.7 2225.7,960.9 2229.8,955.1 2234.0,944.3 2238.2,933.8 2239.8,933.3 2242.3,933.8 2246.5,946.1 2250.7,954.7 2254.9,955.9 2259.1,951.9 2263.2,945.8 2265.8,945.0 2271.6,952.3 2275.8,958.3 2279.9,962.1 2284.1,962.9 2288.3,964.0 2292.4,964.5 2296.6,964.3 2300.8,963.8 2305.0,964.5 2309.2,964.5 2313.3,964.0 2317.5,964.6"/>
<polyline fill="none" stroke="#ff0000" stroke-width="7.5" stroke-linejoin="round" points="230.0,1233.8 234.2,1231.6 238.3,1233.7 242.5,1233.4 246.7,1233.6 250.9,1233.3 255.1,1232.9 259.2,1233.8 263.4,1233.5 267.6,1233.0 271.8,1231.6 275.9,1232.9 280.1,1232.5 284.3,1233.4 288.4,1233.1 292.6,1233.0 296.8,1233.6 301.0,1233.1 305.1,1233.4 309.3,1233.4 313.5,1233.3 317.7,1232.2 321.9,1232.9 326.0,1233.2 330.2,1232.4 334.4,1232.0 338.6,1233.1 342.7,1231.9 346.9,1232.7 351.1,1232.9 355.2,1232.5 359.4,1231.9 363.6,1232.0 367.8,1231.9 371.9,1231.8 376.1,1231.7 380.3,1231.3 384.5,1231.0 388.6,1230.1 392.8,1230.3 397.0,1229.1 401.2,1228.6 405.4,1227.1 409.5,1225.5 413.7,1223.3 417.9,1218.7 422.1,1210.9 426.2,1191.1 430.4,1142.2 434.6,1052.6 438.8,935.5 443.5,863.9 447.1,908.7 451.3,1021.7 455.4,1119.4 459.6,1179.3 463.8,1207.5 468.0,1217.3 472.1,1222.3 476.3,1225.0 480.5,1224.4 484.7,1228.3 488.9,1228.6 493.0,1227.1 497.2,1230.5 501.4,1231.0 505.6,1231.3 509.7,1231.0 513.9,1231.6 518.1,1231.2 522.2,1231.4 526.4,1230.7 530.6,1229.1 533.0,1228.7 534.8,1229.1 539.0,1230.8 543.1,1229.2 547.3,1232.3 551.5,1230.7 555.6,1232.2 559.8,1233.2 564.0,1233.3 568.2,1232.5 572.4,1232.4 576.5,1233.3 580.7,1233.1 584.9,1232.6 589.0,1231.4 593.2,1232.9 597.4,1233.2 601.6,1232.9 605.8,1232.9 609.9,1233.4 614.1,1232.7 618.3,1232.5 622.5,1233.6 626.6,1232.8 630.8,1233.2 635.0,1232.8 639.1,1233.1 643.3,1233.4 647.5,1233.7 651.7,1233.4 655.9,1233.5 660.0,1230.4 664.2,1233.0 668.4,1233.6 672.5,1230.9 676.7,1232.9 680.9,1232.9 685.1,1233.1 689.2,1232.6 693.4,1232.8 697.6,1232.9 701.8,1233.0 706.0,1233.5 710.1,1233.2 714.3,1232.7 718.5,1233.9 722.6,1233.3 726.8,1233.8 731.0,1233.6 735.2,1233.0 739.4,1233.5 743.5,1233.6 747.7,1233.8 751.9,1233.8 756.0,1233.2 760.2,1233.2 764.4,1232.9 768.6,1233.7 772.8,1233.4 776.9,1232.6 781.1,1233.0 785.3,1231.7 789.5,1233.9 793.6,1233.4 797.8,1233.2 802.0,1233.7 806.1,1232.9 810.3,1232.9 814.5,1233.7 818.7,1232.9 822.9,1233.4 827.0,1233.5 831.2,1233.5 835.4,1233.7 839.5,1233.3 843.7,1233.2 847.9,1233.7 852.1,1232.9 856.2,1232.9 860.4,1233.7 864.6,1233.4 868.8,1233.3 873.0,1233.5 877.1,1233.6 881.3,1232.6 885.5,1232.5 889.6,1233.3 893.8,1230.4 898.0,1233.2 902.2,1233.0 906.4,1228.8 910.5,1231.9 914.7,1230.3 918.9,1225.2 923.0,1219.4 928.8,1212.9 931.4,1214.7 935.6,1219.8 939.8,1225.5 943.9,1228.4 948.1,1229.2 952.3,1225.8 956.5,1217.7 960.6,1196.4 964.8,1169.2 967.8,1159.0 973.1,1183.7 977.3,1209.5 981.5,1222.4 985.7,1224.0 989.9,1219.5 994.0,1211.9 999.3,1204.5 1002.4,1208.2 1006.5,1217.2 1010.7,1224.9 1014.9,1229.3 1019.1,1228.7 1023.2,1232.2 1027.4,1232.5 1031.6,1231.9 1035.8,1232.2 1040.0,1232.4 1044.1,1232.9 1048.3,1233.1 1052.5,1233.5 1056.7,1233.3 1060.8,1233.2 1065.0,1233.4 1069.2,1233.6 1073.3,1233.5 1077.5,1233.0 1081.7,1233.1 1085.9,1232.6 1090.0,1232.7 1094.2,1233.0 1098.4,1233.2 1102.6,1233.2 1106.8,1233.1 1110.9,1233.8 1115.1,1232.8 1119.3,1233.5 1123.5,1233.1 1127.6,1232.8 1131.8,1233.0 1136.0,1233.4 1140.2,1233.6 1144.3,1232.7 1148.5,1232.7 1152.7,1233.5 1156.8,1233.8 1161.0,1233.7 1165.2,1233.7 1169.4,1233.7 1173.5,1232.7 1177.7,1233.2 1181.9,1232.7 1186.1,1232.4 1190.2,1230.1 1194.4,1227.3 1198.6,1224.7 1201.6,1223.8 1207.0,1226.2 1211.1,1230.1 1215.3,1231.9 1219.5,1232.7 1223.7,1233.1 1227.8,1232.6 1232.0,1232.9 1236.2,1233.2 1240.3,1233.1 1244.5,1232.9 1248.7,1233.0 1252.9,1233.1 1257.0,1233.4 1261.2,1232.7 1265.4,1231.5 1269.6,1233.5 1273.8,1233.3 1277.9,1233.7 1282.1,1232.7 1286.3,1233.4 1290.5,1233.4 1294.6,1232.8 1298.8,1232.6 1303.0,1233.5 1307.2,1233.7 1311.3,1233.6 1315.5,1232.8 1319.7,1233.1 1323.8,1232.3 1328.0,1232.3 1332.2,1233.4 1336.4,1232.6 1340.5,1232.7 1344.7,1232.3 1348.9,1232.3 1353.1,1232.3 1357.2,1232.3 1361.4,1228.3 1365.6,1230.7 1369.8,1230.3 1374.0,1228.9 1378.1,1224.5 1382.3,1214.8 1386.5,1189.4 1390.7,1148.5 1395.3,1120.8 1399.0,1139.8 1403.2,1180.4 1407.3,1208.3 1411.5,1223.2 1415.7,1228.8 1419.9,1230.3 1424.0,1231.0 1428.2,1230.9 1432.4,1232.0 1436.6,1231.9 1440.8,1232.1 1444.9,1232.0 1449.1,1233.0 1453.3,1232.5 1457.5,1233.4 1461.6,1232.4 1465.8,1233.3 1470.0,1230.4 1474.2,1232.9 1478.3,1233.4 1482.5,1233.5 1486.7,1233.4 1490.8,1230.1 1495.0,1233.6 1499.2,1233.2 1503.4,1233.1 1507.5,1233.4 1511.7,1232.5 1515.9,1233.6 1520.1,1232.9 1524.2,1232.6 1528.4,1233.3 1532.6,1233.4 1536.8,1232.8 1541.0,1233.3 1545.1,1233.1 1549.3,1233.2 1553.5,1233.1 1557.7,1232.5 1561.8,1232.3 1566.0,1232.4 1570.2,1231.7 1574.3,1229.9 1578.5,1227.5 1581.2,1227.2 1586.9,1228.7 1591.0,1230.2 1595.2,1231.3 1599.4,1232.1 1603.6,1231.4 1607.8,1231.7 1611.9,1231.6 1616.1,1230.8 1620.3,1228.6 1624.5,1224.2 1628.6,1209.2 1632.8,1191.8 1637.0,1170.2 1639.5,1165.2 1641.2,1167.6 1645.3,1186.5 1649.5,1208.4 1653.7,1221.7 1657.8,1226.7 1662.0,1228.7 1666.2,1229.3 1670.4,1227.7 1674.5,1223.0 1678.7,1210.2 1682.9,1191.0 1687.1,1171.9 1688.8,1170.2 1691.2,1175.0 1695.4,1194.9 1699.6,1213.6 1703.8,1221.7 1708.0,1228.6 1712.1,1230.4 1716.3,1231.6 1720.5,1231.5 1724.7,1231.9 1728.8,1232.8 1733.0,1231.8 1737.2,1232.6 1741.3,1232.8 1745.5,1232.7 1749.7,1233.0 1753.9,1233.0 1758.0,1233.1 1762.2,1232.6 1766.4,1232.4 1770.6,1232.0 1774.8,1231.8 1778.9,1230.0 1783.1,1224.5 1787.3,1217.4 1792.7,1211.6 1795.6,1213.7 1799.8,1220.4 1804.0,1226.5 1808.2,1230.4 1812.3,1232.3 1816.5,1232.0 1820.7,1232.1 1824.8,1233.3 1829.0,1233.2 1833.2,1233.0 1837.4,1232.5 1841.5,1230.3 1845.7,1233.6 1849.9,1233.2 1854.1,1233.5 1858.2,1232.9 1862.4,1233.3 1866.6,1230.6 1870.8,1233.7 1875.0,1233.4 1879.1,1233.3 1883.3,1232.7 1887.5,1233.5 1891.7,1233.3 1895.8,1233.3 1900.0,1233.1 1904.2,1230.9 1908.3,1233.4 1912.5,1233.3 1916.7,1233.5 1920.9,1232.6 1925.0,1232.9 1929.2,1232.9 1933.4,1233.4 1937.6,1233.3 1941.8,1232.4 1945.9,1233.3 1950.1,1232.5 1954.3,1232.5 1958.5,1229.6 1962.6,1232.5 1966.8,1231.1 1971.0,1228.4 1975.2,1225.1 1980.1,1222.5 1983.5,1222.9 1987.7,1226.1 1991.8,1225.8 1996.0,1219.8 2000.2,1208.1 2004.4,1192.0 2008.0,1184.6 2012.7,1195.3 2016.9,1211.7 2021.1,1223.2 2025.2,1229.4 2029.4,1230.4 2033.6,1232.1 2037.8,1232.7 2042.0,1232.8 2046.1,1232.7 2050.3,1233.1 2054.5,1232.2 2058.7,1233.2 2062.8,1233.5 2067.0,1233.3 2071.2,1233.3 2075.3,1232.7 2079.5,1233.4 2083.7,1232.5 2087.9,1233.4 2092.1,1233.5 2096.2,1232.8 2100.4,1233.7 2104.6,1233.6 2108.8,1233.2 2112.9,1233.2 2117.1,1233.4 2121.3,1233.6 2125.4,1232.6 2129.6,1233.1 2133.8,1233.4 2138.0,1233.4 2142.2,1233.1 2146.3,1230.5 2150.5,1232.7 2154.7,1231.6 2158.8,1230.8 2163.0,1227.6 2167.2,1224.4 2169.4,1223.7 2171.4,1224.2 2175.6,1226.5 2179.7,1230.4 2183.9,1231.6 2188.1,1232.9 2192.2,1232.2 2196.4,1233.0 2200.6,1232.3 2204.8,1233.0 2208.9,1232.9 2213.1,1233.0 2217.3,1232.5 2221.5,1231.5 2225.7,1230.0 2229.8,1226.3 2234.0,1222.8 2238.0,1219.9 2242.3,1222.2 2246.5,1224.2 2250.7,1223.9 2254.9,1219.4 2259.1,1214.8 2262.1,1213.4 2267.4,1217.4 2271.6,1220.8 2275.8,1228.2 2279.9,1231.0 2284.1,1232.2 2288.3,1233.1 2292.4,1232.1 2296.6,1231.1 2300.8,1233.0 2305.0,1233.4 2309.2,1233.3 2313.3,1229.9 2317.5,1232.9"/>
<polyline fill="none" stroke="#008000" stroke-width="7.5" stroke-linejoin="round" points="230.0,534.7 234.2,534.8 238.3,534.8 242.5,531.8 246.7,534.6 250.9,534.3 255.1,534.1 259.2,534.6 263.4,532.3 267.6,533.6 271.8,534.3 275.9,534.3 280.1,534.3 284.3,531.0 288.4,534.0 292.6,534.7 296.8,533.5 301.0,534.5 305.1,533.5 309.3,534.7 313.5,534.3 317.7,534.0 321.9,534.0 326.0,533.6 330.2,531.2 334.4,533.8 338.6,534.2 342.7,533.6 346.9,533.9 351.1,533.9 355.2,534.3 359.4,530.7 363.6,533.3 367.8,532.0 371.9,532.9 376.1,532.9 380.3,533.9 384.5,533.0 388.6,533.5 392.8,532.4 397.0,533.1 401.2,529.0 405.4,531.8 409.5,532.0 413.7,530.3 417.9,530.2 422.1,528.7 426.2,527.0 430.4,524.8 434.6,519.2 438.8,505.6 442.9,452.3 447.1,309.0 451.3,124.8 452.9,100.9 455.4,153.9 459.6,346.9 463.8,470.6 468.0,510.6 472.1,521.1 476.3,524.7 480.5,526.9 484.7,528.8 488.9,530.7 493.0,531.3 497.2,531.1 501.4,531.8 505.6,532.2 509.7,531.9 513.9,533.1 518.1,532.6 522.2,532.7 526.4,533.0 530.6,530.2 534.8,527.4 539.0,524.1 543.1,527.4 547.3,530.5 551.5,532.5 555.6,533.8 559.8,533.0 564.0,534.1 568.2,531.2 572.4,533.4 576.5,533.4 580.7,534.4 584.9,533.6 589.0,534.5 593.2,533.5 597.4,534.5 601.6,534.6 605.8,534.4 609.9,533.5 614.1,534.4 618.3,534.6 622.5,534.3 626.6,534.5 630.8,534.4 635.0,534.6 639.1,534.6 643.3,532.4 647.5,533.8 651.7,533.7 655.9,534.2 660.0,534.1 664.2,532.5 668.4,534.1 672.5,534.2 676.7,534.0 680.9,534.6 685.1,533.6 689.2,531.9 693.4,534.0 697.6,533.7 701.8,534.2 706.0,534.3 710.1,534.5 714.3,534.8 718.5,534.5 722.6,534.6 726.8,534.2 731.0,534.6 735.2,534.8 739.4,534.5 743.5,534.3 747.7,533.9 751.9,534.3 756.0,534.8 760.2,534.0 764.4,534.1 768.6,534.5 772.8,534.8 776.9,534.4 781.1,534.5 785.3,534.0 789.5,534.5 793.6,533.9 797.8,533.8 802.0,534.0 806.1,534.7 810.3,531.6 814.5,533.5 818.7,534.3 822.9,534.0 827.0,534.3 831.2,534.3 835.4,534.3 839.5,534.0 843.7,533.9 847.9,533.6 852.1,531.8 856.2,528.6 860.4,523.6 863.9,520.6 868.8,523.1 873.0,529.6 877.1,533.0 881.3,530.3 885.5,533.2 889.6,534.0 893.8,533.0 898.0,533.4 902.2,533.7 906.4,532.9 910.5,530.2 914.7,533.3 918.9,532.1 923.0,531.5 927.2,527.0 931.4,517.6 935.6,506.2 937.4,504.7 939.8,507.4 943.9,518.0 948.1,527.1 952.3,526.4 956.5,529.4 960.6,524.1 964.8,505.9 969.0,465.2 973.4,431.1 977.3,458.9 981.5,501.1 985.7,522.0 989.9,527.3 994.0,525.6 998.2,516.8 1002.4,504.7 1004.9,501.5 1006.5,503.6 1010.7,515.6 1014.9,526.1 1019.1,531.3 1023.2,532.7 1027.4,530.1 1031.6,532.9 1035.8,534.0 1040.0,534.0 1044.1,533.4 1048.3,533.3 1052.5,534.0 1056.7,533.7 1060.8,534.1 1065.0,534.4 1069.2,533.6 1073.3,534.0 1077.5,534.2 1081.7,534.4 1085.9,533.6 1090.0,531.2 1094.2,532.4 1098.4,534.6 1102.6,534.1 1106.8,534.6 1110.9,534.3 1115.1,534.4 1119.3,534.0 1123.5,534.4 1127.6,534.1 1131.8,534.6 1136.0,534.5 1140.2,534.5 1144.3,534.5 1148.5,534.4 1152.7,534.2 1156.8,534.2 1161.0,534.4 1165.2,534.1 1169.4,533.5 1173.5,534.3 1177.7,533.9 1181.9,533.8 1186.1,533.4 1190.2,533.2 1194.4,531.1 1198.6,527.0 1202.8,521.8 1205.3,520.8 1207.0,518.0 1211.1,525.4 1215.3,531.0 1219.5,532.2 1223.7,533.1 1227.8,533.4 1232.0,534.1 1236.2,534.0 1240.3,534.0 1244.5,533.4 1248.7,533.9 1252.9,534.0 1257.0,534.6 1261.2,534.0 1265.4,534.7 1269.6,534.4 1273.8,534.2 1277.9,531.1 1282.1,534.2 1286.3,534.7 1290.5,534.4 1294.6,534.1 1298.8,534.4 1303.0,534.2 1307.2,534.1 1311.3,534.1 1315.5,533.8 1319.7,534.0 1323.8,530.6 1328.0,533.6 1332.2,533.6 1336.4,533.7 1340.5,533.5 1344.7,534.1 1348.9,533.8 1353.1,531.0 1357.2,533.0 1361.4,532.8 1365.6,533.5 1369.8,532.3 1374.0,532.2 1378.1,531.0 1382.3,529.2 1386.5,526.2 1390.7,511.7 1394.8,469.9 1399.0,408.3 1401.2,394.8 1403.2,406.1 1407.3,466.8 1411.5,510.1 1415.7,525.5 1419.9,529.4 1424.0,531.5 1428.2,532.4 1432.4,532.9 1436.6,532.4 1440.8,533.8 1444.9,533.8 1449.1,533.0 1453.3,533.6 1457.5,531.9 1461.6,533.4 1465.8,533.8 1470.0,534.2 1474.2,532.4 1478.3,533.7 1482.5,534.6 1486.7,534.2 1490.8,533.8 1495.0,534.1 1499.2,534.5 1503.4,534.1 1507.5,534.2 1511.7,534.4 1515.9,534.5 1520.1,533.9 1524.2,534.4 1528.4,533.8 1532.6,534.6 1536.8,534.6 1541.0,534.1 1545.1,534.3 1549.3,530.6 1553.5,531.3 1557.7,533.3 1561.8,533.7 1566.0,533.6 1570.2,533.8 1574.3,533.3 1578.5,531.7 1582.7,529.3 1586.9,525.1 1589.8,523.4 1595.2,526.9 1599.4,530.8 1603.6,530.5 1607.8,532.4 1611.9,533.0 1616.1,532.9 1620.3,532.8 1624.5,532.2 1628.6,530.4 1632.8,526.6 1637.0,512.5 1641.2,484.4 1646.2,457.3 1649.5,470.6 1653.7,501.7 1657.8,521.1 1662.0,529.1 1666.2,530.8 1670.4,531.3 1674.5,530.2 1678.7,529.8 1682.9,525.3 1687.1,511.1 1691.2,482.2 1696.3,453.3 1699.6,467.9 1703.8,501.0 1708.0,521.7 1712.1,529.5 1716.3,531.8 1720.5,532.6 1724.7,533.0 1728.8,532.6 1733.0,533.3 1737.2,533.7 1741.3,533.5 1745.5,533.4 1749.7,534.1 1753.9,534.0 1758.0,533.5 1762.2,533.9 1766.4,533.7 1770.6,533.5 1774.8,532.9 1778.9,532.9 1783.1,529.9 1787.3,524.6 1791.5,511.1 1796.4,504.7 1799.8,510.0 1804.0,521.1 1808.2,528.4 1812.3,532.2 1816.5,532.6 1820.7,533.5 1824.8,531.9 1829.0,534.1 1833.2,533.7 1837.4,534.3 1841.5,534.4 1845.7,531.6 1849.9,534.6 1854.1,533.5 1858.2,534.6 1862.4,533.6 1866.6,534.4 1870.8,534.0 1875.0,534.1 1879.1,533.7 1883.3,533.6 1887.5,534.6 1891.7,534.6 1895.8,534.7 1900.0,534.7 1904.2,534.1 1908.3,532.2 1912.5,533.8 1916.7,534.6 1920.9,533.9 1925.0,534.3 1929.2,533.7 1933.4,533.6 1937.6,533.4 1941.8,534.1 1945.9,534.4 1950.1,533.8 1954.3,533.6 1958.5,534.3 1962.6,533.4 1966.8,532.9 1971.0,533.3 1975.2,531.5 1979.3,528.9 1983.5,520.7 1988.3,518.5 1991.8,520.2 1996.0,525.1 2000.2,526.1 2004.4,520.0 2008.5,501.0 2012.7,477.9 2015.4,471.5 2021.1,495.1 2025.2,516.7 2029.4,525.3 2033.6,530.8 2037.8,532.3 2042.0,532.1 2046.1,532.9 2050.3,533.2 2054.5,534.0 2058.7,533.8 2062.8,533.3 2067.0,533.5 2071.2,534.3 2075.3,534.0 2079.5,531.0 2083.7,533.5 2087.9,534.6 2092.1,533.4 2096.2,534.6 2100.4,533.6 2104.6,533.5 2108.8,534.3 2112.9,534.0 2117.1,534.0 2121.3,534.2 2125.4,533.8 2129.6,533.9 2133.8,534.6 2138.0,534.1 2142.2,534.6 2146.3,534.1 2150.5,533.3 2154.7,533.7 2158.8,532.8 2163.0,530.8 2167.2,527.3 2171.4,523.8 2173.0,523.7 2175.6,525.1 2179.7,528.6 2183.9,532.1 2188.1,532.9 2192.2,534.2 2196.4,533.4 2200.6,533.5 2204.8,534.0 2208.9,533.4 2213.1,530.8 2217.3,533.4 2221.5,534.0 2225.7,530.8 2229.8,530.2 2234.0,530.2 2238.2,524.6 2242.3,518.1 2245.4,514.9 2250.7,519.6 2254.9,523.8 2259.1,519.9 2263.2,511.2 2265.8,509.1 2271.6,518.9 2275.8,526.7 2279.9,531.7 2284.1,533.1 2288.3,533.9 2292.4,533.4 2296.6,533.4 2300.8,533.6 2305.0,532.3 2309.2,534.0 2313.3,534.3 2317.5,533.6"/>
<rect x="230.0" y="52.2" width="2088.5" height="1504.3" fill="none" stroke="#000" stroke-width="8"/>
<path d="M230.0 1556.5V1594.0 M310.8 1556.5V1586.0 M394.5 1556.5V1586.0 M479.0 1556.5V1586.0 M561.8 1556.5V1586.0 M646.2 1556.5V1594.0 M730.4 1556.5V1586.0 M813.5 1556.5V1586.0 M896.6 1556.5V1586.0 M979.8 1556.5V1586.0 M1063.0 1556.5V1594.0 M1146.9 1556.5V1586.0 M1230.4 1556.5V1586.0 M1313.9 1556.5V1586.0 M1397.3 1556.5V1586.0 M1481.5 1556.5V1594.0 M1564.3 1556.5V1586.0 M1647.8 1556.5V1586.0 M1731.3 1556.5V1586.0 M1814.6 1556.5V1586.0 M1897.8 1556.5V1594.0 M1981.5 1556.5V1586.0 M2067.0 1556.5V1586.0 M2148.6 1556.5V1586.0 M2233.4 1556.5V1586.0 M2318.5 1556.5V1594.0" stroke="#000" stroke-width="8" fill="none"/>
<text x="226.8" y="1704.2" font-size="83" font-weight="bold" letter-spacing="2.5" text-anchor="middle">20</text>
<text x="643.8" y="1704.2" font-size="83" font-weight="bold" letter-spacing="2.5" text-anchor="middle">30</text>
<text x="1064.0" y="1704.2" font-size="83" font-weight="bold" letter-spacing="2.5" text-anchor="middle">40</text>
<text x="1478.5" y="1704.2" font-size="83" font-weight="bold" letter-spacing="2.5" text-anchor="middle">50</text>
<text x="1899.2" y="1704.2" font-size="83" font-weight="bold" letter-spacing="2.5" text-anchor="middle">60</text>
<text x="2315.3" y="1704.2" font-size="83" font-weight="bold" letter-spacing="2.5" text-anchor="middle">70</text>
<text font-size="82" fill="#000" font-weight="bold"><tspan x="1074.8 1144.9 1180.0 1207.4 1254.9 1291.0 1332.7 1369.7 1406.2 1435.6" y="1858.0">2 (degree)</tspan></text>
<text transform="translate(1117.1,1858) scale(1.15,1)" font-size="82" font-weight="bold">&#952;</text>
<text transform="translate(105.2,1052.2) rotate(-90)" font-size="83" font-weight="bold">Intensity (a.u)</text>
<line x1="1533.8" y1="118.2" x2="1696.3" y2="118.2" stroke="#000000" stroke-width="7.8"/>
<line x1="1533.8" y1="184.5" x2="1685.2" y2="184.5" stroke="#ff0000" stroke-width="7.8"/>
<line x1="1533.8" y1="258.0" x2="1685.2" y2="258.0" stroke="#0000ff" stroke-width="7.8"/>
<line x1="1533.8" y1="332.0" x2="1685.2" y2="332.0" stroke="#800000" stroke-width="7.8"/>
<line x1="1533.8" y1="405.9" x2="1685.2" y2="405.9" stroke="#008000" stroke-width="7.8"/>
<text font-size="66" fill="#000" stroke="#fff" stroke-width="0.70"><tspan x="1730.4 1778.3 1810.2 1834.1 1865.9 1883.9" y="133.3">Bare (</tspan></text>
<text transform="translate(1905.2,133.3) scale(1.22,0.92)" font-size="66" style="font-family:'Noto Serif CJK SC',serif" fill="#000">&#945;</text>
<text font-size="66" fill="#000" stroke="#fff" stroke-width="0.70"><tspan x="1949.9 1972.2 2022.7" y="133.3">-Al</tspan><tspan x="2040.0" y="150.8">2</tspan><tspan x="2077.3" y="133.3">O</tspan><tspan x="2129.6" y="150.8">3</tspan><tspan x="2161.5" y="133.3">)</tspan></text>
<text font-size="66" fill="#ff0000" stroke="#fff" stroke-width="0.70"><tspan x="1716.2 1762.9 1805.9 1845.4 1863.3" y="196.4">HRTiO</tspan><tspan x="1910.0" y="213.9">2</tspan></text>
<text font-size="66" fill="#0000ff" stroke="#fff" stroke-width="0.70"><tspan x="1717.3 1775.0 1807.4 1825.4 1872.2 1915.5 1955.1 1973.1" y="269.4">Mo/HRTiO</tspan><tspan x="2019.9" y="286.9">2</tspan></text>
<text font-size="66" fill="#800000" stroke="#fff" stroke-width="0.70"><tspan x="1719.0 1747.3 1773.2 1792.5 1809.9 1833.9 1869.3 1898.7 1915.2 1942.8 1958.4 2019.6 2053.0 2069.6 2116.3 2159.5 2199.1 2217.7" y="342.5">1st cycle Mo/HRTiO</tspan><tspan x="2264.5" y="360.0">2</tspan></text>
<text font-size="66" fill="#008000" stroke="#fff" stroke-width="0.70"><tspan x="1717.9 1745.8 1771.4 1804.5 1821.0 1845.7 1879.7 1910.6 1927.1 1954.8 1970.4 2031.6 2065.0 2081.0 2127.8 2171.0 2211.2 2228.5" y="416.2">3rd cycle Mo/HRTiO</tspan><tspan x="2275.4" y="433.7">2</tspan></text>
<text x="618.7" y="185" font-size="72" fill="#ff0000">#</text>
<text font-size="84" fill="#ff0000" stroke="#fff" stroke-width="0.70"><tspan x="671.2 720.8 743.3" y="185.0">TiO</tspan><tspan x="801.9" y="211.0">2</tspan></text>
<text x="616.9" y="288.5" font-size="78" fill="#000">+</text>
<text font-size="84" fill="#000" stroke="#fff" stroke-width="0.70"><tspan x="677.9 735.8" y="280.7">Al</tspan><tspan x="758.1" y="303.0">2</tspan><tspan x="800.6" y="280.7">O</tspan><tspan x="858.7" y="303.0">3</tspan></text>
</svg>
</body></html>
